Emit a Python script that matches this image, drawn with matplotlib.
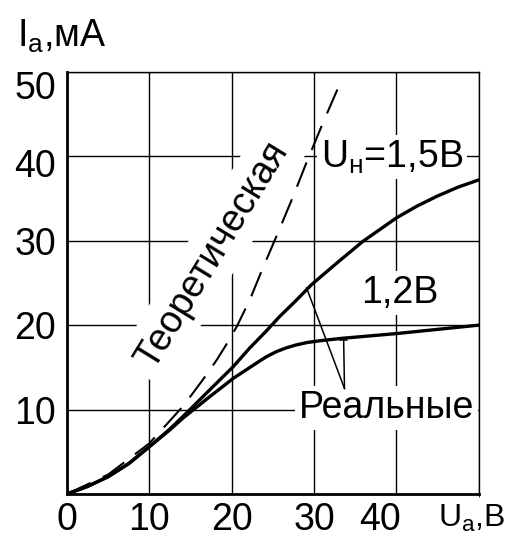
import matplotlib
matplotlib.use("Agg")
import matplotlib.pyplot as plt
from matplotlib.transforms import ScaledTranslation

plt.rcParams['font.family'] = ['Liberation Sans', 'DejaVu Sans']
plt.rcParams['mathtext.fontset'] = 'custom'
plt.rcParams['mathtext.rm'] = 'Liberation Sans'
plt.rcParams['mathtext.it'] = 'Liberation Sans:italic'

# анодные характеристики диода: U_a, В -> I_a, мА
theory_u = [0, 5, 10, 12.7, 13.9, 15.1, 16.7, 18.2, 19.6, 20.6, 22.2, 23.8,
            25.6, 27.4, 29.1, 31.1, 33.1]
theory_i = [0, 2.3, 6.0, 8.9, 10.2, 11.7, 13.8, 15.9, 18.1, 19.8, 23.0, 26.8,
            30.9, 35.1, 39.3, 44.0, 48.5]

u_15 = [0, 2.5, 5, 7.5, 10, 12.5, 14.1, 17.3, 20.2, 22.2, 24.2, 25.8, 27.8,
        29.7, 32.7, 35.9, 40, 42.5, 45, 47.5, 50]
i_15 = [0, 0.9, 2.05, 3.6, 5.6, 7.7, 9.2, 12.3, 15.1, 17.3, 19.3, 21.0, 22.9,
        24.8, 27.3, 29.9, 32.7, 34.1, 35.3, 36.35, 37.2]

u_12 = [0, 2.5, 5, 7.5, 10, 12.5, 14.1, 17.3, 20.2, 23.0, 24.2, 25.4, 26.6,
        27.8, 29.2, 30.7, 33.5, 40, 45, 50]
i_12 = [0, 0.9, 2.05, 3.6, 5.6, 7.6, 9.0, 11.5, 13.7, 15.5, 16.25, 16.85,
        17.3, 17.65, 17.95, 18.15, 18.45, 19.0, 19.5, 20.0]

xticks = [0, 10, 20, 30, 40]
yticks = [10, 20, 30, 40, 50]

FS = 27

fig = plt.figure(figsize=(5.1, 5.41), dpi=100)
ax = fig.add_axes([0.1314, 0.0869, 0.8072, 0.7802])
ax.set_xlim(0, 50)
ax.set_ylim(0, 50)

ax.set_xticks(xticks)
ax.set_yticks(yticks)
ax.set_xticks([50], minor=True)
ax.tick_params(length=0, labelsize=FS)
ax.tick_params(axis='x', pad=6)
ax.tick_params(axis='y', pad=8)
ax.grid(True, which='both', color='black', lw=1.0)
ax.set_axisbelow(True)

for side in ['left', 'bottom']:
    ax.spines[side].set_linewidth(2.0)
for side in ['top', 'right']:
    ax.spines[side].set_linewidth(1.0)

# подписи делений сдвинуты вручную
dpi_tr = fig.dpi_scale_trans
xl = ax.get_xticklabels()
xl[-1].set_transform(xl[-1].get_transform() + ScaledTranslation(-0.16, 0, dpi_tr))
yl = ax.get_yticklabels()
yl[-1].set_transform(yl[-1].get_transform() + ScaledTranslation(0, -0.13, dpi_tr))
yl[-2].set_transform(yl[-2].get_transform() + ScaledTranslation(0, -0.07, dpi_tr))

ax.plot(theory_u, theory_i, color='black', lw=1.5, dashes=(12.5, 6.5), zorder=3)
ax.plot(u_15, i_15, color='black', lw=2.4, zorder=3, solid_joinstyle='round')
ax.plot(u_12, i_12, color='black', lw=2.4, zorder=3, solid_joinstyle='round')

white = dict(boxstyle='square,pad=0.1', fc='white', ec='none')

ax.text(17.6, 28.3, 'Теоретическая', fontsize=FS, rotation=58.5,
        rotation_mode='anchor', ha='center', va='center', zorder=1.5,
        bbox=dict(boxstyle='square,pad=0.25', fc='white', ec='none'))
ax.text(30.8, 38.7, r'U$_{\rm н}$=1,5В', fontsize=FS, ha='left',
        va='baseline', zorder=1.5, bbox=white)
ax.text(35.7, 22.6, '1,2В', fontsize=FS, ha='left', va='baseline',
        zorder=1.5, bbox=white)
ax.text(28.2, 9.0, 'Реальные', fontsize=FS, ha='left', va='baseline',
        zorder=1.5, bbox=white)

# выноски к реальным характеристикам
ax.plot([33.7, 29.1], [12.5, 24.4], color='black', lw=1.1, zorder=3)
ax.plot([33.7, 33.6], [12.5, 18.25], color='black', lw=1.1, zorder=3)
ax.plot([33.1, 34.0], [18.25, 18.25], color='black', lw=1.1, zorder=3)

fig.text(0.033, 0.913, r'I$_{\rm a}$,мА', fontsize=FS, ha='left', va='baseline')
fig.text(0.859, 0.026, r'U$_{\rm a}$,В', fontsize=23, ha='left', va='baseline')

fig.savefig('out.png', dpi=100)
